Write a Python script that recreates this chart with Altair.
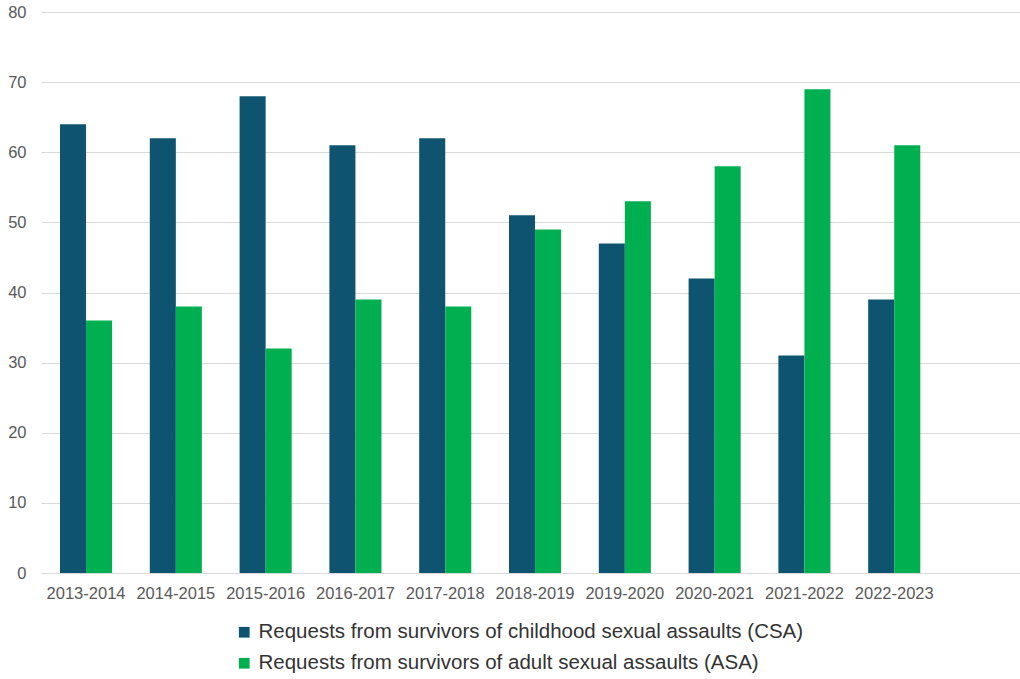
import altair as alt
import pandas as pd

years = ["2013-2014", "2014-2015", "2015-2016", "2016-2017", "2017-2018",
         "2018-2019", "2019-2020", "2020-2021", "2021-2022", "2022-2023"]
csa = [64, 62, 68, 61, 62, 51, 47, 42, 31, 39]
asa = [36, 38, 32, 39, 38, 49, 53, 58, 69, 61]
series = ["Requests from survivors of childhood sexual assaults (CSA)",
          "Requests from survivors of adult sexual assaults (ASA)"]
colors = ["#0E5470", "#00B050"]

rows = []
for y, a, b in zip(years, csa, asa):
    rows.append({"year": y, "series": series[0], "value": a})
    rows.append({"year": y, "series": series[1], "value": b})
df = pd.DataFrame(rows)

chart = alt.Chart(df).mark_bar().encode(
    x=alt.X("year:N", sort=years,
            scale=alt.Scale(domain=years, paddingInner=0.42, paddingOuter=0.661, align=0.16),
            axis=alt.Axis(title=None, labelAngle=0, ticks=False, domain=False,
                          labelFont="Liberation Sans", labelFontSize=16.5,
                          labelColor="#595959", labelPadding=12)),
    xOffset=alt.XOffset("series:N", sort=series),
    y=alt.Y("value:Q", scale=alt.Scale(domain=[0, 80]),
            axis=alt.Axis(title=None, values=list(range(0, 81, 10)), ticks=False,
                          domain=False, gridColor="#d9d9d9", gridWidth=1,
                          labelFont="Liberation Sans", labelFontSize=16.5,
                          labelColor="#595959", labelPadding=15)),
    color=alt.Color("series:N", sort=series,
                    scale=alt.Scale(domain=series, range=colors),
                    legend=alt.Legend(title=None, orient="none", legendX=193, legendY=610,
                                      direction="vertical", symbolType="square",
                                      symbolSize=115, symbolStrokeWidth=0,
                                      labelFont="Liberation Sans", labelFontSize=20.5,
                                      labelColor="#333333", rowPadding=10,
                                      labelLimit=900, symbolOffset=0)),
).properties(
    width=979, height=561,
    autosize=alt.AutoSizeParams(type="none"),
    padding={"left": 41, "top": 12, "right": 0, "bottom": 106},
).configure_view(stroke=None)

chart.save("out.html", embed_options={"renderer": "svg", "actions": False})
